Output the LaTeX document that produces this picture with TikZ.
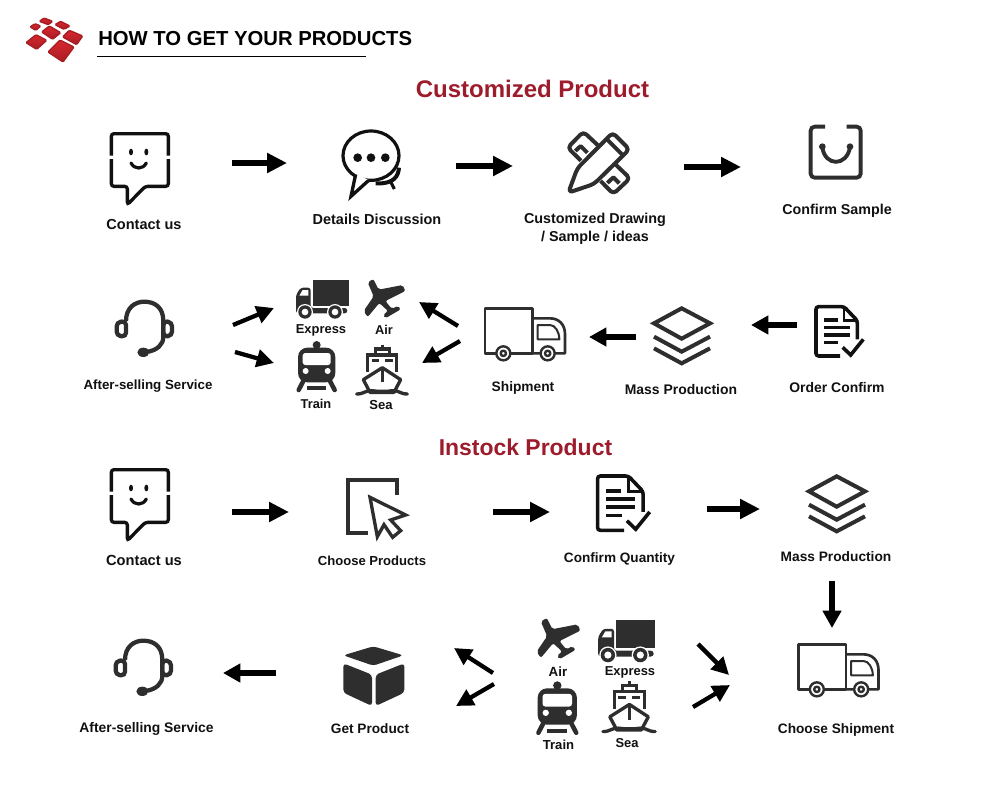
\documentclass[tikz,border=0pt]{standalone}
\usepackage{fontspec}
\setmainfont{Liberation Sans}
\usetikzlibrary{arrows.meta}
\definecolor{ink}{HTML}{111111}
\definecolor{dark}{HTML}{2E2E2E}
\definecolor{crim}{HTML}{9C1C2B}
\definecolor{logoa}{HTML}{D8282E}
\definecolor{logob}{HTML}{A81C24}
\tikzset{
  zc/.style={x=.25pt,y=-.25pt},
  lbl/.style={text=ink,font=\bfseries\fontsize{#1pt}{12pt}\selectfont,inner sep=0pt,align=center},
  lbl/.default=10,
  head/.style={text=crim,font=\bfseries\fontsize{#1pt}{20pt}\selectfont,inner sep=0pt},
  bigarr/.style={line width=4.7pt,-{Triangle[length=15pt,width=14.3pt]}},
  midarr/.style={line width=3.9pt,-{Triangle[length=13pt,width=13.5pt]}},
  diaarr/.style={line width=3.2pt,-{Triangle[length=13pt,width=13pt]}},
  logop/.style={rounded corners=.8pt,line width=1pt,draw=logob,top color=logoa,bottom color=logob},
  icSmile/.pic={\begin{scope}[zc]
    \draw[ink,line width=2.5pt,rounded corners=2pt] (1,68)--(1,2)--(172,2)--(172,68);
    \draw[ink,line width=2.5pt,rounded corners=2pt,line join=miter] (172,78)--(172,160)--(103,160)--(49,215)--(49,160)--(1,160)--(1,78);
    \fill[ink] (60,57) ellipse [x radius=6,y radius=10];
    \fill[ink] (106,57) ellipse [x radius=6,y radius=10];
    \draw[ink,line width=2.4pt,line cap=round] (60,90) .. controls (70,110) and (96,110) .. (106,90);
  \end{scope}},
  icBubble/.pic={\begin{scope}[zc]
    \draw[ink,line width=2.4pt] (108,92) ellipse [x radius=84,y radius=74];
    \fill[white] (62,145)--(100,165)--(85,185)--(55,170)--cycle;
    \draw[ink,line width=2.5pt,line join=miter] (62,148)--(48,214)--(100,167);
    \foreach \x in {68,108,151} \fill[ink] (\x,98) circle [radius=13];
    \draw[ink,line width=3pt] (192,128) .. controls (190,155) and (175,178) .. (122,175);
    \draw[ink,line width=2.4pt] (168,172)--(178,192);
  \end{scope}},
  icPencil/.pic={\begin{scope}[zc]
    \begin{scope}[dark,line width=3pt,line join=round]
    \draw[rounded corners=3pt] (243,182)--(203,143)--(250,95)--(296,138);
    \draw (226,153)--(242,138)--(262,158);
    \draw[rounded corners=3pt] (343,190)--(390,235)--(340,282)--(302,243);
    \draw (322,249)--(340,232)--(358,250);
    \draw[rounded corners=3pt] (205,278)--(232,205)--(338,98)--(388,148)--(282,252)--cycle;
    \draw (318,115)--(368,165);
    \end{scope}
  \end{scope}},
  icBag/.pic={\begin{scope}[zc]
    \draw[dark,line width=2.9pt,rounded corners=3pt] (975,80)--(932,80)--(932,233)--(1082,233)--(1082,80)--(1040,80);
    \draw[dark,line width=2.9pt] (967,142) .. controls (975,200) and (1040,200) .. (1050,142);
    \fill[dark] (967,140) circle [radius=10];
    \fill[dark] (1050,140) circle [radius=10];
  \end{scope}},
  icHead/.pic={\begin{scope}[zc]
    \begin{scope}[dark,line width=3.2pt]
    \draw (78,78) .. controls (78,38) and (105,20) .. (133,20) .. controls (165,20) and (190,38) .. (190,78) -- (190,125) .. controls (190,150) and (170,165) .. (145,170);
    \draw[rounded corners=3pt] (78,78)--(50,82)--(50,122)--(78,125)--cycle;
    \draw[rounded corners=3pt] (190,78)--(216,82)--(216,122)--(190,125)--cycle;
    \fill (130,172) ellipse [x radius=18,y radius=14];
    \end{scope}
  \end{scope}},
  icExpress/.pic={\begin{scope}[zc]
    \fill[dark] (68,14) rectangle (177,92);
    \fill[dark,rounded corners=2pt] (18,115)--(18,60)--(32,38)--(62,38)--(62,99)--(172,99)--(172,115)--cycle;
    \fill[white] (28,62)--(38,45)--(55,45)--(55,62)--cycle;
    \foreach \x in {45,135} {
      \fill[white] (\x,111) circle [radius=24];
      \fill[dark] (\x,111) circle [radius=20];
      \fill[white] (\x,111) circle [radius=10];
    }
  \end{scope}},
  icAir/.pic={\begin{scope}[zc]
    \fill[dark,rounded corners=1.5pt] (233,22)--(250,12)--(266,44)--(338,30)--(346,48)--(286,78)--(306,102)--(324,92)--(332,103)--(286,130)--(279,120)--(294,108)--(268,84)--(233,126)--(221,108)--(251,64)--cycle;
  \end{scope}},
  icTrain/.pic={\begin{scope}[zc]
    \fill[dark] (80,210) circle [radius=12];
    \fill[dark,rounded corners=7pt] (24,218) rectangle (136,322);
    \fill[white,rounded corners=2pt] (38,234) rectangle (122,270);
    \fill[white] (47,288) circle [radius=9];
    \fill[white] (113,288) circle [radius=9];
    \draw[dark,line width=3.4pt,line cap=round] (40,318)--(26,345);
    \draw[dark,line width=3.4pt,line cap=round] (120,318)--(134,345);
    \draw[dark,line width=3.2pt] (50,340)--(108,340);
  \end{scope}},
  icSea/.pic={\begin{scope}[zc]
    \begin{scope}[dark,line width=2.5pt]
    \draw (277,209)--(277,222);
    \draw (256,240)--(256,222)--(298,222)--(298,240);
    \draw (233,290)--(233,240)--(320,240)--(320,290);
    \draw[line width=2.4pt] (245,257)--(268,257);
    \draw[line width=2.4pt] (285,257)--(308,257);
    \filldraw[fill=white,line join=round] (220,314)--(277,278)--(332,314)--(312,352)--(240,352)--cycle;
    \draw (277,283)--(277,322);
    \draw[line cap=round] (200,357) .. controls (222,357) and (228,345) .. (245,347) .. controls (265,350) and (290,350) .. (308,347) .. controls (325,345) and (330,357) .. (352,357);
    \end{scope}
  \end{scope}},
  icVan/.pic={\begin{scope}[zc]
    \begin{scope}[dark,line width=2pt,line join=round]
    \draw (187,190)--(45,190)--(45,55)--(187,55)--cycle;
    \draw (187,85)--(240,85) .. controls (268,85) and (285,105) .. (285,132) -- (285,190) -- (187,190);
    \draw[line width=1.5pt] (203,148)--(203,105)--(240,105) .. controls (255,105) and (268,125) .. (268,148) --cycle;
    \foreach \x in {100,233} {
      \filldraw[fill=white,line width=1.8pt] (\x,190) circle [radius=21];
      \draw[line width=1.8pt] (\x,190) circle [radius=8];
    }
    \end{scope}
  \end{scope}},
  icLayers/.pic={\begin{scope}[zc]
    \begin{scope}[dark,line width=3pt,line join=miter]
    \draw (552,100)--(635,55)--(720,100)--(635,146)--cycle;
    \draw (552,140)--(635,185)--(720,140);
    \draw (552,175)--(635,220)--(720,175);
    \end{scope}
  \end{scope}},
  icDoc/.pic={\begin{scope}[zc]
    \begin{scope}[ink,line width=2.7pt]
    \draw[rounded corners=2pt] (1110,198)--(1038,198)--(1038,50)--(1122,50)--(1162,92)--(1162,148);
    \draw[line width=2.2pt] (1122,50)--(1122,92)--(1162,92);
    \draw (1062,90)--(1103,90);
    \draw (1062,112)--(1140,112);
    \draw (1062,135)--(1140,135);
    \draw (1062,158)--(1105,158);
    \draw (1118,172)--(1142,195)--(1180,148);
    \end{scope}
  \end{scope}},
  icCursor/.pic={\begin{scope}[zc]
    \draw[dark,line width=3pt,line join=miter] (232,105)--(232,60)--(85,60)--(85,218)--(143,218);
    \draw[dark,line width=2.5pt,line join=miter] (150,112)--(257,165)--(212,180)--(242,212)--(218,232)--(192,194)--(172,230)--cycle;
  \end{scope}},
  icCube/.pic={\begin{scope}[zc]
    \fill[dark,rounded corners=2.5pt] (70,136)--(160,109)--(250,136)--(160,167)--cycle;
    \fill[dark,rounded corners=2.5pt] (70,160)--(156,194)--(156,288)--(70,248)--cycle;
    \fill[dark,rounded corners=2.5pt] (167,194)--(253,160)--(253,248)--(167,288)--cycle;
  \end{scope}},
}
\newcommand{\arr}[5]{\coordinate (#2s) at (#3); \coordinate (#2e) at (#4); \draw[#1,#5] (#2s)--(#2e);}
\begin{document}
\begin{tikzpicture}[x=.75pt,y=-.75pt]
\useasboundingbox (0,0) rectangle (1000,800);
\fill[white] (0,0) rectangle (1000,800);
% logo
\begin{scope}[shift={(20,12)},zc]
  \shadedraw[logop] (84,120)--(120,84)--(162,105)--(129,150)--cycle;
  \shadedraw[logop] (18,92)--(48,68)--(80,85)--(50,112)--cycle;
  \shadedraw[logop] (65,60)--(88,42)--(122,62)--(98,82)--cycle;
  \shadedraw[logop] (128,75)--(148,55)--(188,72)--(170,98)--cycle;
  \shadedraw[logop] (30,45)--(45,35)--(62,42)--(48,55)--cycle;
  \shadedraw[logop] (58,28)--(72,18)--(98,28)--(85,38)--cycle;
  \shadedraw[logop] (105,38)--(122,28)--(150,42)--(132,52)--cycle;
\end{scope}
\node[anchor=west,inner sep=0pt,text=black,font=\bfseries\fontsize{15.2pt}{18pt}\selectfont] (title) at (98,39) {HOW TO GET YOUR PRODUCTS};
\coordinate (ul1) at (97,56.5); \coordinate (ul2) at (366,56.5);
\draw[black,line width=1pt] (ul1)--(ul2);
\node[head=18] (h1) at (532.5,89) {Customized Product};
\node[head=17.2] (h2) at (525.5,447) {Instock Product};
% row 1
\pic (p1) at (111,133) {icSmile};
\pic (p2) at (335,125) {icBubble};
\pic (p3) at (500,100) {icPencil};
\pic (p4) at (500,100) {icBag};
\node[lbl=10.9] (l1) at (144,224) {Contact us};
\node[lbl=10.85] (l2) at (377,219.5) {Details Discussion};
\node[lbl=10.75] (l3) at (595,220) {Customized Drawing};
\node[lbl=10.75] (l3b) at (595,238) {/ Sample / ideas};
\node[lbl=10.7] (l4) at (837,210.5) {Confirm Sample};
\arr{bigarr}{a1}{232,163}{287,163}{black}
\arr{bigarr}{a2}{456,166}{513,166}{black}
\arr{bigarr}{a3}{684,167}{741,167}{black}
% row 2
\pic (p5) at (100,295) {icHead};
\pic (p6) at (290,275) {icExpress};
\pic (p7) at (290,275) {icAir};
\pic (p8) at (290,275) {icTrain};
\pic (p9) at (290,275) {icSea};
\pic (p10) at (470,290) {icVan};
\pic (p11) at (470,290) {icLayers};
\pic (p12) at (470,290) {icDoc};
\node[lbl] (l5) at (148,386) {After-selling Service};
\node[lbl=9.7] (l6) at (321,330.5) {Express};
\node[lbl=9.6] (l7) at (384,330) {Air};
\node[lbl=9.6] (l8) at (316,404) {Train};
\node[lbl=9.8] (l9) at (381,405) {Sea};
\node[lbl=10.3] (l10) at (523,387.5) {Shipment};
\node[lbl=10.45] (l11) at (681,390) {Mass Production};
\node[lbl=10.45] (l12) at (837,388) {Order Confirm};
\arr{midarr}{a4}{797,325}{751,325}{black}
\arr{midarr}{a5}{636,337}{589,337}{black}
\arr{diaarr}{a6}{233,325}{274,308}{black}
\arr{diaarr}{a7}{235,352}{274,363}{black}
\arr{diaarr}{a8}{458,326}{419,302}{black}
\arr{diaarr}{a9}{460,341}{422,363}{black}
% row 3
\pic (p13) at (111,469) {icSmile};
\pic (p14) at (320,460) {icCursor};
\pic[scale=1.1] (p15) at (217,457.7) {icDoc};
\pic (p16) at (625,458) {icLayers};
\node[lbl=11] (l13) at (144,560.5) {Contact us};
\node[lbl=9.8] (l14) at (372,561) {Choose Products};
\node[lbl=10.2] (l15) at (619.5,558.5) {Confirm Quantity};
\node[lbl=10.3] (l16) at (836,556.5) {Mass Production};
\arr{bigarr}{a10}{232,512}{289,512}{black}
\arr{bigarr}{a11}{493,512}{550,512}{black}
\arr{bigarr}{a12}{707,509}{760,509}{black}
\arr{midarr}{a13}{832,581}{832,628}{black}
% row 4
\pic (p17) at (99,634) {icHead};
\pic (p18) at (320,610) {icCube};
\pic[scale=1.05] (p19) at (459.3,613.8) {icAir};
\pic[scale=1.08] (p20) at (591.7,615.1) {icExpress};
\pic[scale=1.05] (p21) at (529.3,612) {icTrain};
\pic[scale=1.03] (p22) at (534.3,609) {icSea};
\pic (p23) at (783.5,626) {icVan};
\node[lbl=10.4] (l17) at (146.5,729) {After-selling Service};
\node[lbl=10.25] (l18) at (370,728.5) {Get Product};
\node[lbl] (l19) at (558,671.5) {Air};
\node[lbl=9.7] (l20) at (630,672.5) {Express};
\node[lbl=9.8] (l21) at (558.5,744.5) {Train};
\node[lbl=9.7] (l22) at (627,743.5) {Sea};
\node[lbl=10.25] (l23) at (836,729.5) {Choose Shipment};
\arr{midarr}{a14}{276,673}{223,673}{black}
\arr{diaarr}{a15}{493,673}{454,648}{black}
\arr{diaarr}{a16}{494,684}{456,706}{black}
\arr{diaarr}{a17}{698,644}{729,675}{black}
\arr{diaarr}{a18}{693,707}{730,685}{black}
\end{tikzpicture}
\end{document}
